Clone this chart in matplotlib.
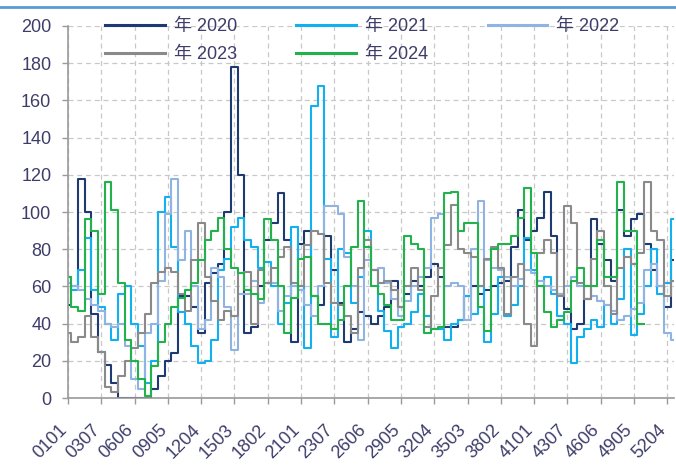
import numpy as np
import matplotlib
matplotlib.use("Agg")
import matplotlib.pyplot as plt
from matplotlib.lines import Line2D
from matplotlib.transforms import ScaledTranslation

plt.rcParams['font.family'] = ['Liberation Sans', 'Noto Sans CJK SC', 'DejaVu Sans']

# x positions: day of year (sampled every 4 days), tick labels every 20 days (week+day code)
days = np.arange(0, 365, 4)
tick_days = np.arange(0, 361, 20)
tick_labels = ["0101", "0307", "0606", "0905", "1204", "1503", "1802", "2101", "2307",
               "2606", "2905", "3204", "3503", "3802", "4101", "4307", "4606", "4905", "5204"]

nan = np.nan
y2020 = [50, 60, 118, 100, 45, 25, 18, 8, 0, 0,
         0, 0, 0, 5, 12, 20, 24, 55, 55, 49,
         35, 62, 67, 72, 100, 178, 120, 35, 38, 60,
         85, 94, 110, 85, 30, 83, 90, 55, 50, 87,
         69, 51, 30, 37, 46, 44, 40, 44, 49, 63,
         49, 56, 63, 60, 65, 72, 65, 38, 38, 42,
         55, 60, 56, 58, 60, 62, 63, 81, 101, 85,
         90, 97, 111, 87, 56, 48, 37, 40, 53, 96,
         83, 74, 63, 101, 87, 96, 99, 83, 69, 60,
         49, 74]
y2021 = [65, 58, 69, 86, 58, 49, 40, 31, 56, 60,
         40, 28, 8, 20, 100, 108, 81, 46, 40, 28,
         19, 20, 31, 69, 75, 92, 97, 85, 81, 70,
         73, 60, 40, 51, 92, 60, 27, 157, 168, 75,
         33, 80, 78, 51, 65, 90, 69, 47, 36, 27,
         38, 40, 46, 56, 44, 37, 37, 31, 40, 42,
         55, 45, 60, 30, 45, 65, 44, 50, 60, 86,
         69, 60, 65, 56, 44, 40, 19, 33, 37, 42,
         38, 50, 40, 53, 80, 34, 45, 60, 80, 56,
         62, 96]
y2022 = [62, 60, 58, 53, 50, 47, 40, 38, 40, 28,
         10, 5, 35, 40, 63, 99, 118, 74, 90, 60,
         37, 42, 70, 65, 49, 26, 56, 56, 63, 51,
         62, 62, 47, 55, 60, 58, 50, 44, 60, 103,
         103, 99, 76, 60, 31, 74, 69, 70, 62, 53,
         44, 52, 60, 65, 70, 97, 99, 60, 62, 60,
         42, 80, 106, 74, 70, 69, 65, 60, 64, 69,
         67, 63, 60, 58, 56, 60, 65, 60, 53, 55,
         52, 50, 47, 42, 44, 48, 51, 69, 72, 60,
         35, 31]
y2023 = [35, 30, 33, 44, 33, 25, 6, 3, 12, 20,
         27, 35, 45, 62, 68, 70, 68, 56, 47, 74,
         94, 65, 52, 42, 47, 44, 67, 68, 40, 69,
         62, 70, 76, 81, 62, 60, 82, 90, 88, 62,
         51, 50, 44, 35, 70, 85, 69, 62, 63, 58,
         49, 60, 70, 58, 38, 55, 70, 82, 104, 80,
         78, 76, 60, 75, 81, 70, 45, 65, 72, 40,
         28, 78, 85, 78, 55, 103, 94, 62, 53, 75,
         90, 60, 45, 70, 76, 72, 78, 116, 90, 85,
         55, 63]
y2024 = [65, 49, 47, 96, 90, 56, 116, 101, 62, 31,
         20, 10, 1, 17, 30, 40, 49, 54, 58, 62,
         74, 85, 90, 97, 80, 70, 67, 58, 56, 53,
         96, 85, 60, 35, 54, 75, 76, 55, 40, 40,
         37, 42, 60, 81, 106, 81, 60, 56, 50, 42,
         42, 87, 83, 80, 35, 37, 38, 110, 111, 90,
         94, 94, 49, 36, 80, 83, 83, 87, 97, 113,
         78, 60, 46, 38, 42, 46, 63, 70, 60, 60,
         85, 65, 65, 116, 90, 90, 40, nan, nan, nan,
         nan, nan]

series = [
    ("年 2020", y2020, "#1f3a73"),
    ("年 2021", y2021, "#12b0ee"),
    ("年 2022", y2022, "#8fb4e3"),
    ("年 2023", y2023, "#8a8a8a"),
    ("年 2024", y2024, "#21b24b"),
]

W, H = 676, 473
fig = plt.figure(figsize=(W / 100, H / 100), dpi=100)
ax = fig.add_axes([68 / W, (H - 398) / H, 606 / W, 372 / H])

handles = {}
for name, vals, col in series:
    h, = ax.plot(days, vals, color=col, lw=1.5, drawstyle='steps-mid', label=name)
    handles[name] = h

ax.set_xlim(0, 364)
ax.set_ylim(0, 200)
ax.set_yticks(np.arange(0, 201, 20))
ax.set_xticks(tick_days)
ax.set_xticklabels(tick_labels, rotation=45, ha='right', va='top', rotation_mode='anchor')

ax.grid(True, color='#c8c8c8', linestyle=(0, (4, 3)), linewidth=0.9)
ax.set_axisbelow(True)
for s in ['top', 'right']:
    ax.spines[s].set_visible(False)
for s in ['left', 'bottom']:
    ax.spines[s].set_color('#9a9a9a')
    ax.spines[s].set_linewidth(1.2)

txtcol = '#3d3d6b'
ax.tick_params(axis='both', colors='#9a9a9a', length=4, width=1, labelsize=13, labelcolor=txtcol)
ax.tick_params(axis='y', pad=8)
ax.tick_params(axis='x', pad=13)
shift = ScaledTranslation(-7 / 72, 0, fig.dpi_scale_trans)
for lab in ax.get_xticklabels():
    lab.set_transform(lab.get_transform() + shift)

order = ["年 2020", "年 2023", "年 2021", "年 2024", "年 2022"]
leg = fig.legend([handles[k] for k in order], order, loc='upper left', ncol=3,
                 bbox_to_anchor=(105 / W, 1 - 18 / H), frameon=False, borderpad=0,
                 borderaxespad=0, fontsize=13, handlelength=3.3, handletextpad=0.5,
                 columnspacing=3.3, labelspacing=0.6)
for t in leg.get_texts():
    t.set_color(txtcol)
for l in leg.get_lines():
    l.set_linewidth(2.2)

fig.add_artist(Line2D([0, 1], [1 - 7 / H, 1 - 7 / H], transform=fig.transFigure,
                      color='#5b9bd5', lw=2))

fig.savefig("out.png", dpi=100)
